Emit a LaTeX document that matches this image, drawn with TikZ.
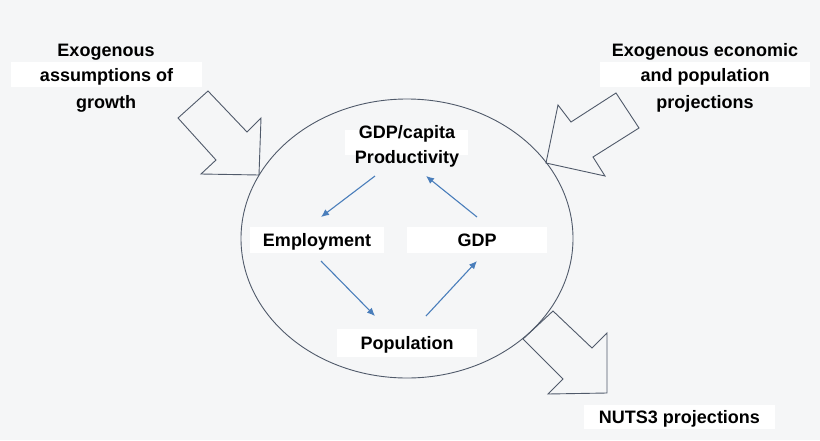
\documentclass[tikz,border=0pt]{standalone}
\usepackage{fontspec}
\setmainfont{Liberation Sans}
\usetikzlibrary{arrows.meta}
\definecolor{bgcol}{HTML}{F5F6F7}
\definecolor{edgecol}{HTML}{505A6A}
\definecolor{linkcol}{HTML}{4A7EBB}
\tikzset{
  txt/.style={font=\fontsize{18}{24}\selectfont\bfseries, inner sep=0pt},
  bar/.style={txt, fill=white, text height=13pt, text depth=0pt},
  blockarrow/.style={draw=edgecol, line width=0.9pt, line join=miter},
  link/.style={draw=linkcol, line width=1.1pt, -{Latex[length=8pt,width=7pt]}}
}
\begin{document}
\begin{tikzpicture}[x=1pt,y=-1pt]
            % 背景
            \fill[bgcol] (0,0) rectangle (820,440);
            \useasboundingbox (0,0) rectangle (820,440);
            % 左上: 外生增长假设
            \node[bar, minimum width=191pt, minimum height=25pt] (asm2) at (106.5,74.5) {assumptions of};
            \node[txt, anchor=base] (asm1) at (106,56) {Exogenous};
            \node[txt, anchor=base] (asm3) at (106,108) {growth};
            % 右上: 外生经济与人口预测
            \node[bar, minimum width=210pt, minimum height=25pt] (proj2) at (705,74.5) {and population};
            \node[txt, anchor=base] (proj1) at (705,56) {Exogenous economic};
            \node[txt, anchor=base] (proj3) at (705,108) {projections};
            % 块状箭头
            \draw[blockarrow] (178,118) -- (208,91) -- (247,132) -- (261,118) -- (259,175) -- (201,174) -- (216,160) -- cycle;
            \draw[blockarrow] (546,163) -- (558,105) -- (571,122) -- (616,93) -- (639,128) -- (593,157) -- (605,176) -- cycle;
            \draw[blockarrow] (523,339) -- (553,311) -- (592,348) -- (607,333) -- (607,393) -- (548,394) -- (563,379) -- cycle;
            % 椭圆
            \draw[edgecol, line width=0.9pt] (407,238.5) ellipse [x radius=166, y radius=139.5];
            % 椭圆内的节点
            \node[fill=white, minimum width=123pt, minimum height=25pt, inner sep=0pt] (capbar) at (406.5,142.5) {};
            \node[txt, anchor=base] (cap1) at (407,138) {GDP/capita};
            \node[txt, anchor=base] (cap2) at (407,163) {Productivity};
            \node[bar, minimum width=134pt, minimum height=26pt] (emp) at (317,240) {Employment};
            \node[bar, minimum width=140pt, minimum height=26pt] (gdp) at (477,240) {GDP};
            \node[bar, minimum width=140pt, minimum height=28pt] (pop) at (407,343) {Population};
            \node[bar, minimum width=191pt, minimum height=24pt] (nuts) at (679.5,416.5) {NUTS3 projections};
            % 箭头端点
            \coordinate (capSW) at (375,176);
            \coordinate (capSE) at (426,176);
            \coordinate (empN) at (321,217);
            \coordinate (empS) at (321,261);
            \coordinate (gdpN) at (477,217);
            \coordinate (gdpS) at (477,261);
            \coordinate (popW) at (375,316);
            \coordinate (popE) at (426,316);
            % 循环
            \draw[link] (capSW) -- (empN);
            \draw[link] (empS) -- (popW);
            \draw[link] (popE) -- (gdpS);
            \draw[link] (gdpN) -- (capSE);
\end{tikzpicture}
\end{document}
